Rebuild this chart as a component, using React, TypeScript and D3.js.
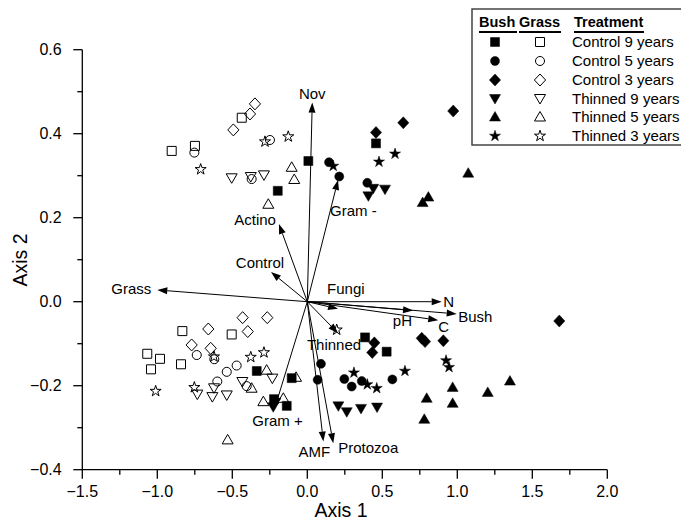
import React from 'react';
import * as d3 from 'd3';

// treatment groups (legend order)
const treatments = ['Control 9 years', 'Control 5 years', 'Control 3 years', 'Thinned 9 years', 'Thinned 5 years', 'Thinned 3 years'];
const shapes = ['square', 'circle', 'diamond', 'tdown', 'tup', 'star'];

// site scores, bush plots (filled)
const bushC9 = [[-0.197, 0.264], [0.007, 0.335], [0.458, 0.377], [0.385, -0.085], [0.529, -0.119], [-0.337, -0.165], [-0.104, -0.182], [-0.222, -0.232], [-0.137, -0.248]];
const bushC5 = [[0.145, 0.332], [0.213, 0.298], [0.4, 0.283], [0.091, -0.148], [0.069, -0.186], [0.247, -0.184], [0.296, -0.202], [0.363, -0.189], [0.567, -0.185]];
const bushC3 = [[0.458, 0.403], [0.64, 0.426], [0.973, 0.454], [1.68, -0.046], [0.447, -0.098], [0.433, -0.121], [0.763, -0.087], [0.785, -0.095], [0.907, -0.093]];
const bushT9 = [[0.44, 0.27], [0.518, 0.268], [0.407, 0.252], [-0.227, -0.25], [0.207, -0.248], [0.263, -0.262], [0.358, -0.254], [0.465, -0.251]];
const bushT5 = [[1.073, 0.306], [0.807, 0.249], [0.769, 0.236], [1.351, -0.189], [0.969, -0.204], [0.796, -0.23], [0.969, -0.242], [1.203, -0.216], [0.78, -0.28]];
const bushT3 = [[0.173, 0.323], [0.585, 0.352], [0.478, 0.333], [0.311, -0.169], [0.4, -0.197], [0.463, -0.206], [0.651, -0.165], [0.925, -0.14], [0.945, -0.156]];

// site scores, grass plots (open)
const grassC9 = [[-0.437, 0.438], [-0.904, 0.359], [-0.749, 0.371], [-0.833, -0.07], [-0.504, -0.078], [-1.067, -0.124], [-0.982, -0.136], [-1.042, -0.161], [-0.842, -0.149]];
const grassC5 = [[-0.753, 0.355], [-0.249, 0.385], [-0.371, 0.292], [-0.737, -0.127], [-0.62, -0.137], [-0.537, -0.167], [-0.471, -0.152], [-0.6, -0.19], [-0.404, -0.201]];
const grassC3 = [[-0.349, 0.471], [-0.382, 0.447], [-0.493, 0.409], [-0.431, -0.038], [-0.267, -0.038], [-0.66, -0.065], [-0.397, -0.071], [-0.771, -0.103], [-0.644, -0.111]];
const grassT9 = [[-0.504, 0.295], [-0.377, 0.298], [-0.289, 0.302], [-0.733, -0.22], [-0.633, -0.226], [-0.622, -0.205], [-0.537, -0.222], [-0.433, -0.19], [-0.233, -0.182]];
const grassT5 = [[-0.104, 0.32], [-0.087, 0.291], [-0.26, 0.232], [-0.271, -0.163], [-0.371, -0.206], [-0.075, -0.18], [-0.293, -0.238], [-0.16, -0.23], [-0.531, -0.329]];
const grassT3 = [[-0.711, 0.315], [-0.282, 0.381], [-0.127, 0.393], [-0.622, -0.131], [-0.377, -0.132], [-0.289, -0.121], [-1.011, -0.213], [-0.753, -0.204], [0.196, -0.067]];

const bush = [bushC9, bushC5, bushC3, bushT9, bushT5, bushT3];
const grass = [grassC9, grassC5, grassC3, grassT9, grassT5, grassT3];

// biplot vectors
const vecNames = ['Nov', 'Gram -', 'Actino', 'Control', 'Grass', 'Fungi', 'N', 'pH', 'Bush', 'C', 'Thinned', 'Gram +', 'AMF', 'Protozoa'];
const vecX = [0.033, 0.205, -0.189, -0.242, -1.0, 0.205, 0.896, 0.705, 0.996, 0.873, 0.205, -0.215, 0.107, 0.173];
const vecY = [0.474, 0.29, 0.185, 0.071, 0.028, -0.017, 0.0, -0.021, -0.029, -0.044, -0.075, -0.251, -0.333, -0.337];

const xTicks = [-1.5, -1.0, -0.5, 0.0, 0.5, 1.0, 1.5, 2.0];
const yTicks = [-0.4, -0.2, 0.0, 0.2, 0.4, 0.6];

// label placement relative to arrow tip: [dx, dy, anchor]
const labelPos: [number, number, string][] = [
  [0, -4, 'middle'], [-8, 36, 'start'], [-3, 1, 'end'], [-11, -4, 'middle'], [-6, 4.5, 'end'],
  [-11, -15, 'start'], [1.5, 5, 'start'], [-1, 15, 'end'], [1.5, 7.7, 'start'], [0, 12, 'start'],
  [-4, 17, 'middle'], [2.5, 19, 'middle'], [-9, 15, 'middle'], [5, 9.4, 'start'],
];

const FONT = '"Liberation Sans", Arial, sans-serif';

function symbolPath(shape: string): string {
  switch (shape) {
    case 'square': return 'M-4.5,-4.5h9v9h-9z';
    case 'circle': return d3.symbol(d3.symbolCircle, 64)()!;
    case 'diamond': return 'M0,-6L5.6,0L0,6L-5.6,0Z';
    case 'tup': return 'M0,-5.5L5.5,4L-5.5,4Z';
    case 'tdown': return 'M0,5.5L5.5,-4L-5.5,-4Z';
    default: return d3.symbol(d3.symbolStar, 38)()!;
  }
}

function Marker({ x, y, shape, filled }: { x: number; y: number; shape: string; filled: boolean }) {
  return (
    <path
      d={symbolPath(shape)}
      transform={`translate(${x},${y})`}
      fill={filled ? '#000' : 'none'}
      stroke="#000"
      strokeWidth={filled ? 0.5 : 1}
    />
  );
}

export default function App() {
  const W = 681, H = 520;
  const x = d3.scaleLinear().domain([-1.5, 2.0]).range([82.3, 607.3]);
  const y = d3.scaleLinear().domain([-0.4, 0.6]).range([469.7, 49.7]);
  const ox = x(0), oy = y(0);

  const xMinor = d3.range(-1.25, 2.0, 0.5);
  const yMinor = d3.range(-0.3, 0.6, 0.2);

  const arrows = vecNames.map((name, i) => {
    const tx = x(vecX[i]), ty = y(vecY[i]);
    const len = Math.hypot(tx - ox, ty - oy);
    const ux = (tx - ox) / len, uy = (ty - oy) / len;
    const L = 10, w = 3.5;
    const bx = tx - ux * L, by = ty - uy * L;
    const head = `M${tx},${ty}L${bx - uy * w},${by + ux * w}L${bx + uy * w},${by - ux * w}Z`;
    return { name, tx, ty, bx, by, head, lp: labelPos[i] };
  });

  const legX = 472, legY = 9;
  const rowY = [42, 61, 80, 98.5, 117, 136];

  return (
    <svg width={W} height={H} style={{ position: 'absolute', left: 0, top: 0, background: '#fff' }} fontFamily={FONT}>
      {/* axes */}
      <g stroke="#000" strokeWidth={1.3} fill="none">
        <line x1={x(-1.5)} x2={x(2.0)} y1={y(-0.4)} y2={y(-0.4)} />
        <line x1={x(-1.5)} x2={x(-1.5)} y1={y(-0.4)} y2={y(0.6)} />
        {xTicks.map((t) => <line key={'xt' + t} x1={x(t)} x2={x(t)} y1={y(-0.4)} y2={y(-0.4) + 9} />)}
        {xMinor.map((t) => <line key={'xm' + t} x1={x(t)} x2={x(t)} y1={y(-0.4)} y2={y(-0.4) + 5} />)}
        {yTicks.map((t) => <line key={'yt' + t} x1={x(-1.5) - 9} x2={x(-1.5)} y1={y(t)} y2={y(t)} />)}
        {yMinor.map((t) => <line key={'ym' + t} x1={x(-1.5) - 5} x2={x(-1.5)} y1={y(t)} y2={y(t)} />)}
      </g>
      <g fontSize={16} fill="#000">
        {xTicks.map((t) => (
          <text key={'xl' + t} x={x(t)} y={497} textAnchor="middle">{d3.format('.1f')(t)}</text>
        ))}
        {yTicks.map((t) => (
          <text key={'yl' + t} x={61.7} y={y(t)} dy="0.36em" textAnchor="end">{d3.format('.1f')(t)}</text>
        ))}
      </g>
      <text x={341} y={517} fontSize={19.5} textAnchor="middle">Axis 1</text>
      <text transform={`translate(27,260) rotate(-90)`} fontSize={19.5} textAnchor="middle">Axis 2</text>

      {/* biplot vectors */}
      <g>
        {arrows.map((a) => (
          <g key={a.name}>
            <line x1={ox} y1={oy} x2={a.bx} y2={a.by} stroke="#000" strokeWidth={1} />
            <path d={a.head} fill="#000" />
          </g>
        ))}
      </g>

      {/* site scores */}
      <g>
        {grass.map((g, gi) => g.map((p, i) => (
          <Marker key={'g' + gi + '-' + i} x={x(p[0])} y={y(p[1])} shape={shapes[gi]} filled={false} />
        )))}
        {bush.map((g, gi) => g.map((p, i) => (
          <Marker key={'b' + gi + '-' + i} x={x(p[0])} y={y(p[1])} shape={shapes[gi]} filled={true} />
        )))}
      </g>

      {/* vector labels */}
      <g fontSize={15} fill="#000">
        {arrows.map((a) => (
          <text key={'l' + a.name} x={a.tx + a.lp[0]} y={a.ty + a.lp[1]} textAnchor={a.lp[2] as any}>{a.name}</text>
        ))}
      </g>

      {/* legend */}
      <g>
        <rect x={legX} y={legY} width={240} height={136} fill="#fff" stroke="#444" strokeWidth={1.5} />
        <g fontSize={14.5} fontWeight="bold">
          <text x={479} y={27}>Bush</text>
          <text x={519} y={27}>Grass</text>
          <text x={574} y={27}>Treatment</text>
        </g>
        <g stroke="#000" strokeWidth={1.8}>
          <line x1={479} x2={517} y1={32} y2={32} />
          <line x1={519} x2={561} y1={32} y2={32} />
          <line x1={574} x2={644} y1={32} y2={32} />
        </g>
        {treatments.map((t, i) => (
          <g key={t}>
            <Marker x={495} y={rowY[i]} shape={shapes[i]} filled={true} />
            <Marker x={540} y={rowY[i]} shape={shapes[i]} filled={false} />
            <text x={572} y={rowY[i]} dy="0.36em" fontSize={15}>{t}</text>
          </g>
        ))}
      </g>
    </svg>
  );
}
